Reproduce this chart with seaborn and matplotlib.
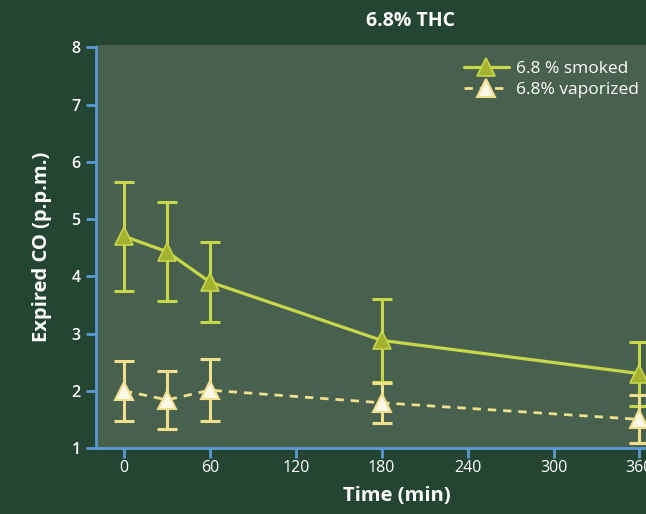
import matplotlib
matplotlib.use("Agg")
import matplotlib.pyplot as plt
import seaborn as sns
import pandas as pd
import numpy as np

# data
time_min = [0, 30, 60, 180, 360]
smoked = [4.70, 4.43, 3.90, 2.88, 2.30]
smoked_err = [0.95, 0.86, 0.70, 0.72, 0.56]
vaporized = [2.00, 1.84, 2.01, 1.79, 1.50]
vaporized_err = [0.52, 0.50, 0.54, 0.35, 0.42]
x_ticks = [0, 60, 120, 180, 240, 300, 360]
y_ticks = [1, 2, 3, 4, 5, 6, 7, 8]
series_names = ["6.8 % smoked", "6.8% vaporized"]

sns.set_theme(style="white")
plt.rcParams['font.family'] = ['Open Sans', 'DejaVu Sans']

FIG_BG = "#234532"
AX_BG = "#48614f"
BLUE = "#5b9bd5"
SMOKE = "#c8d64a"
SMOKE_FILL = "#a3b22f"
VAP = "#f1df8e"
VAP_FILL = "#fdf8e6"

fig = plt.figure(figsize=(6.46, 5.14), dpi=100, facecolor=FIG_BG)
ax = fig.add_axes([96/646, 66/514, 0.93, (448-45)/514])
ax.set_facecolor(AX_BG)

df = pd.DataFrame({
    "time": time_min * 2,
    "co": smoked + vaporized,
    "err": smoked_err + vaporized_err,
    "group": [series_names[0]] * len(time_min) + [series_names[1]] * len(time_min),
})

# error bars
ax.errorbar(time_min, smoked, yerr=smoked_err, fmt="none", ecolor=SMOKE,
            elinewidth=2.2, capsize=7.5, capthick=2.2, zorder=2)
ax.errorbar(time_min, vaporized, yerr=vaporized_err, fmt="none", ecolor=VAP,
            elinewidth=2.2, capsize=7.5, capthick=2.2, zorder=2)

sns.lineplot(data=df[df.group == series_names[0]], x="time", y="co", ax=ax,
             color=SMOKE, lw=2.3, marker="^", markersize=12.5,
             markerfacecolor=SMOKE_FILL, markeredgecolor=SMOKE, markeredgewidth=1.2,
             label=series_names[0], zorder=3)
sns.lineplot(data=df[df.group == series_names[1]], x="time", y="co", ax=ax,
             color=VAP, lw=2.0, marker="^", markersize=12.5,
             markerfacecolor=VAP_FILL, markeredgecolor=VAP, markeredgewidth=1.5,
             label=series_names[1], zorder=3)
ax.lines[-1].set_linestyle((0, (3, 2.5)))

ax.set_xlim(-19.5, 400)
ax.set_ylim(1, 8.04)
ax.set_xticks(x_ticks)
ax.set_yticks(y_ticks)

for s in ["top", "right"]:
    ax.spines[s].set_visible(False)
for s in ["left", "bottom"]:
    ax.spines[s].set_color(BLUE)
    ax.spines[s].set_linewidth(2)
ax.spines["left"].set_bounds(1, 8)

ax.tick_params(axis="both", colors=BLUE, length=7, width=2, direction="out",
               labelcolor="white", labelsize=11.5, pad=3)
ax.tick_params(axis="y", left=True, pad=4)
ax.tick_params(axis="x", bottom=True, pad=2)
for lab in ax.get_yticklabels():
    lab.set_fontweight("semibold")

ax.set_xlabel("Time (min)", color="white", fontsize=14.5, fontweight="bold", labelpad=7)
ax.set_ylabel("Expired CO (p.p.m.)", color="white", fontsize=14.5, fontweight="bold", labelpad=14)
fig.text(0.636, 0.96, "6.8% THC", color="white", fontsize=14, fontweight="bold",
         ha="center", va="center")

leg = ax.legend(loc="upper left", bbox_to_anchor=(455/646, 1 - 52/514),
                bbox_transform=fig.transFigure, frameon=False, fontsize=12.5,
                handlelength=2.6, handletextpad=0.4, labelspacing=0.3, borderpad=0)
for t in leg.get_texts():
    t.set_color("white")

fig.savefig("out.png", dpi=100, facecolor=FIG_BG)
